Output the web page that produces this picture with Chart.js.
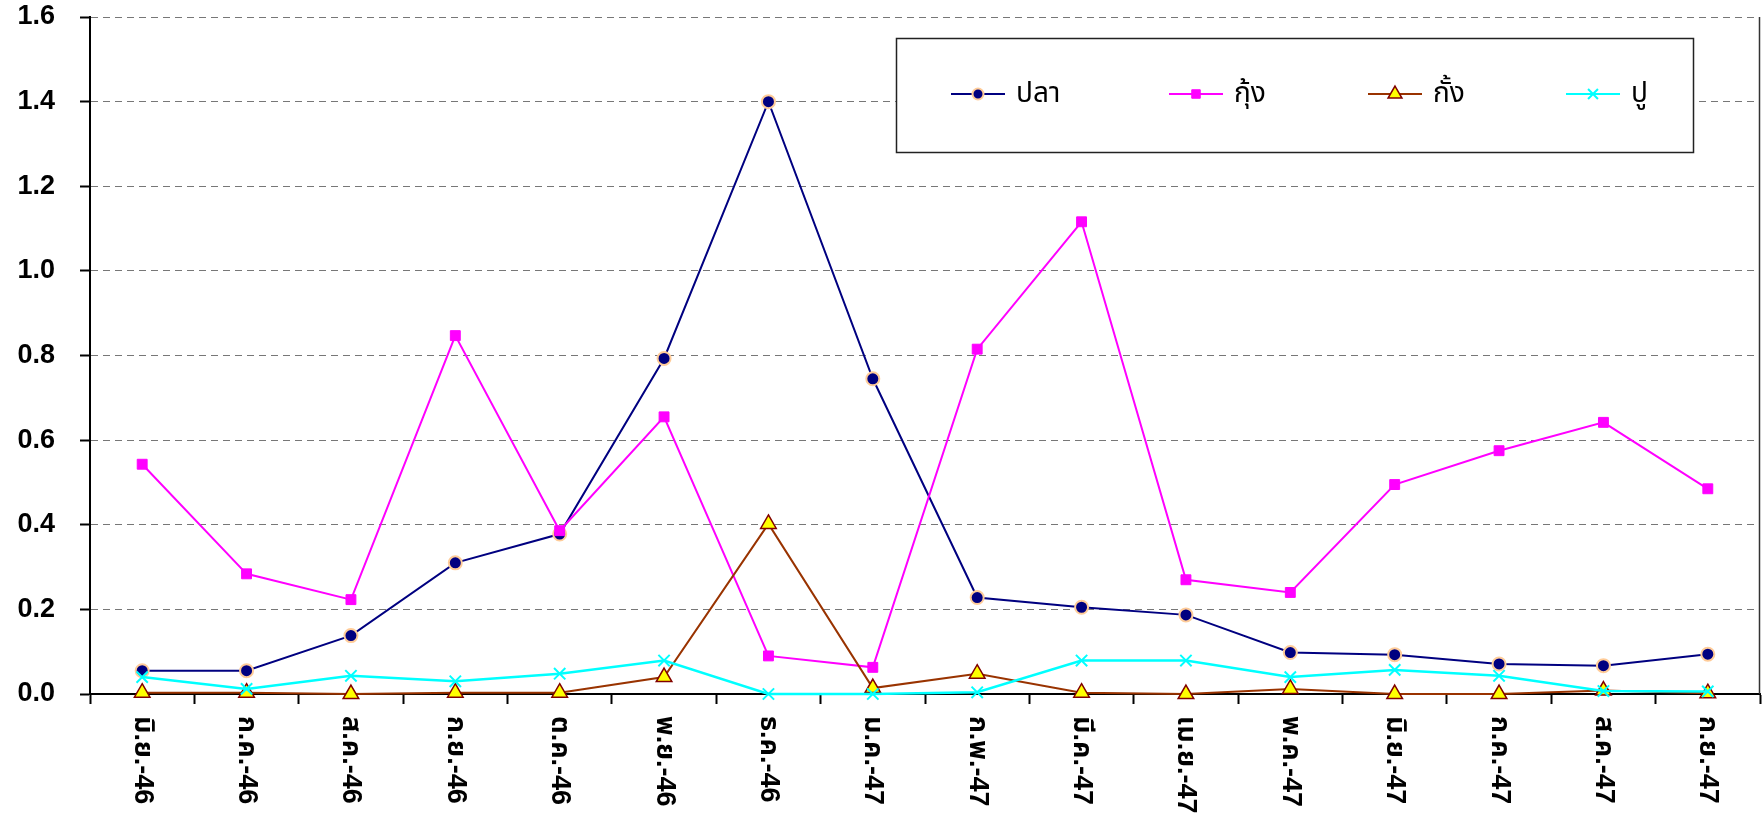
<!DOCTYPE html>
<html>
<head>
<meta charset="utf-8">
<script src="https://cdn.jsdelivr.net/npm/chart.js@4/dist/chart.umd.min.js"></script>
<style>
  html, body { margin: 0; padding: 0; background: #fff; }
  #wrap { width: 1762px; height: 825px; }
</style>
</head>
<body>
<div id="wrap"><canvas id="c" width="1762" height="825"></canvas></div>
<script>
// Monthly categories (Thai month abbreviations, Buddhist-era years)
const months = ['มิ.ย.-46', 'ก.ค.-46', 'ส.ค.-46', 'ก.ย.-46', 'ต.ค.-46', 'พ.ย.-46', 'ธ.ค.-46', 'ม.ค.-47',
                'ก.พ.-47', 'มี.ค.-47', 'เม.ย.-47', 'พ.ค.-47', 'มิ.ย.-47', 'ก.ค.-47', 'ส.ค.-47', 'ก.ย.-47'];

const seriesNames = ['ปลา', 'กุ้ง', 'กั้ง', 'ปู'];

const pla  = [0.055, 0.055, 0.138, 0.310, 0.378, 0.793, 1.400, 0.745, 0.228, 0.205, 0.187, 0.098, 0.093, 0.071, 0.067, 0.094];
const kung = [0.543, 0.284, 0.223, 0.847, 0.386, 0.655, 0.090, 0.063, 0.815, 1.116, 0.270, 0.240, 0.495, 0.575, 0.642, 0.485];
const kang = [0.003, 0.003, 0.000, 0.003, 0.003, 0.040, 0.402, 0.014, 0.048, 0.003, 0.000, 0.012, 0.000, 0.000, 0.008, 0.002];
const pu   = [0.040, 0.012, 0.043, 0.030, 0.048, 0.079, 0.000, 0.000, 0.004, 0.079, 0.079, 0.040, 0.057, 0.043, 0.007, 0.006];

const yMin = 0, yMax = 1.6, yStep = 0.2;

const tickFont = '"Liberation Sans", Arial, "Noto Sans Thai", Tahoma, sans-serif';

const datasets = [
  { label: seriesNames[0], data: pla, borderColor: '#000080', borderWidth: 2,
    pointStyle: 'circle', pointRadius: 6.5, pointBackgroundColor: '#000080',
    pointBorderColor: '#FFCC99', pointBorderWidth: 2, order: 4, clip: false },
  { label: seriesNames[1], data: kung, borderColor: '#FF00FF', borderWidth: 2,
    pointStyle: 'rect', pointRadius: 7, pointBackgroundColor: '#FF00FF',
    pointBorderColor: '#FF00FF', pointBorderWidth: 1, order: 3, clip: false },
  { label: seriesNames[2], data: kang, borderColor: '#993300', borderWidth: 2,
    pointStyle: 'triangle', pointRadius: 9, pointBackgroundColor: '#FFFF00',
    pointBorderColor: '#800000', pointBorderWidth: 1.5, order: 2, clip: false },
  { label: seriesNames[3], data: pu, borderColor: '#00FFFF', borderWidth: 2.5,
    pointStyle: 'crossRot', pointRadius: 8, pointBackgroundColor: '#00FFFF',
    pointBorderColor: '#00FFFF', pointBorderWidth: 2, order: 1, clip: false }
];

// Category labels under the x axis, turned a quarter-turn clockwise
const xLabelPlugin = {
  id: 'xLabels',
  afterDraw(chart) {
    const xs = chart.scales.x;
    const ctx = chart.ctx;
    ctx.save();
    ctx.font = 'bold 27px ' + tickFont;
    ctx.fillStyle = '#000';
    ctx.textAlign = 'left';
    ctx.textBaseline = 'middle';
    chart.data.labels.forEach((lab, i) => {
      const x = xs.getPixelForTick(i);
      ctx.save();
      ctx.translate(x, xs.top + 22);
      ctx.rotate(Math.PI / 2);
      ctx.fillText(lab, 0, 0);
      ctx.restore();
    });
    ctx.restore();
  }
};

// Right edge of the plot frame
const framePlugin = {
  id: 'frame',
  beforeDatasetsDraw(chart) {
    const a = chart.chartArea;
    const ctx = chart.ctx;
    ctx.save();
    ctx.strokeStyle = '#333';
    ctx.lineWidth = 1.5;
    ctx.beginPath();
    ctx.moveTo(a.right - 0.5, a.top);
    ctx.lineTo(a.right - 0.5, a.bottom);
    ctx.stroke();
    ctx.restore();
  }
};

// Boxed legend sitting inside the plot area
const boxLegendPlugin = {
  id: 'boxLegend',
  afterDraw(chart) {
    const ctx = chart.ctx;
    const box = { x: 896, y: 38, w: 797, h: 114 };
    const markerX = [978, 1196, 1395, 1593];
    const rowY = 94;
    const half = 27;
    const legendRadius = [5.5, 6, 8, 7];
    ctx.save();
    ctx.fillStyle = '#fff';
    ctx.fillRect(box.x, box.y, box.w, box.h);
    ctx.strokeStyle = '#222';
    ctx.lineWidth = 1.5;
    ctx.strokeRect(box.x + 0.5, box.y + 0.5, box.w, box.h);
    chart.data.datasets.forEach((ds, i) => {
      const cx = markerX[i];
      ctx.strokeStyle = ds.borderColor;
      ctx.lineWidth = 2;
      ctx.beginPath();
      ctx.moveTo(cx - half, rowY);
      ctx.lineTo(cx + half, rowY);
      ctx.stroke();
      ctx.fillStyle = ds.pointBackgroundColor;
      ctx.strokeStyle = ds.pointBorderColor;
      ctx.lineWidth = ds.pointBorderWidth;
      Chart.helpers.drawPoint(ctx, { pointStyle: ds.pointStyle, radius: legendRadius[i], rotation: 0, borderWidth: ds.pointBorderWidth }, cx, rowY);
      ctx.fillStyle = '#000';
      ctx.font = '28px "Noto Sans Thai", Tahoma, "Liberation Sans", sans-serif';
      ctx.textAlign = 'left';
      ctx.textBaseline = 'middle';
      ctx.fillText(ds.label, cx + 38, rowY + 2);
    });
    ctx.restore();
  }
};

function noScalePadding(s) {
  s.paddingTop = 0; s.paddingBottom = 0; s.paddingLeft = 0; s.paddingRight = 0;
}

new Chart(document.getElementById('c'), {
  type: 'line',
  data: { labels: months, datasets },
  plugins: [framePlugin, xLabelPlugin, boxLegendPlugin],
  options: {
    responsive: false,
    animation: false,
    devicePixelRatio: 1,
    layout: { autoPadding: false, padding: { top: 17, right: 2, left: 0, bottom: 0 } },
    plugins: { legend: { display: false }, tooltip: { enabled: false } },
    scales: {
      x: {
        type: 'category',
        offset: true,
        grid: { offset: true, drawOnChartArea: false, drawTicks: true,
                tickLength: 10, tickColor: '#000', tickWidth: 2 },
        border: { color: '#000', width: 2 },
        ticks: { display: false },
        afterFit(s) { s.height = 131; noScalePadding(s); }
      },
      y: {
        min: yMin, max: yMax,
        ticks: {
          stepSize: yStep,
          padding: 25,
          color: '#000',
          font: { family: tickFont, size: 27, weight: 'bold' },
          callback: v => Number(v).toFixed(1)
        },
        grid: {
          color: c => (c.tick && c.tick.value === 0) ? 'rgba(0,0,0,0)' : '#777',
          lineWidth: 1,
          tickColor: '#000', tickWidth: 2, tickLength: 10, tickBorderDash: []
        },
        border: { color: '#000', width: 2, dash: [7, 5] },
        afterFit(s) { s.width = 90; noScalePadding(s); }
      }
    }
  }
});
</script>
</body>
</html>
